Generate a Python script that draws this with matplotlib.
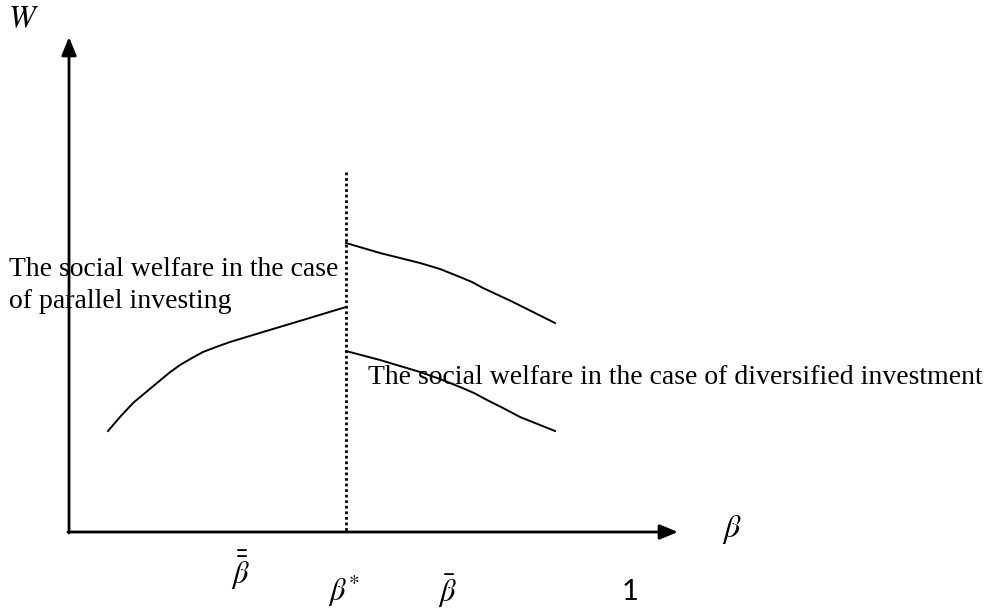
import matplotlib.pyplot as plt

# schematic: social welfare W against beta (coordinates, in pixels)
parallel_x = [108, 120, 133, 145, 157, 169, 180, 192, 203, 216, 230, 263, 303, 346]
parallel_y = [431, 417, 403, 393, 383, 373, 365, 358, 352, 347, 342, 332, 320, 307]

upper_x = [346, 380, 420, 440, 460, 472, 483, 498, 513, 555]
upper_y = [243, 253, 263, 269, 277, 282, 288, 295, 302, 323]

lower_x = [346, 380, 420, 440, 460, 474, 487, 503, 520, 555]
lower_y = [351, 360, 372, 379, 387, 393, 400, 408, 417, 431]

beta_star = 346
x_axis_y = 532
y_axis_x = 69

tick_labels = [r'$\bar{\bar{\beta}}$', r'$\beta^{*}$', r'$\bar{\beta}$', '1']
tick_pos = [240, 344, 447, 630]
tick_rows = [570, 591, 591, 592]

plt.rcParams['mathtext.fontset'] = 'stix'

fig = plt.figure(figsize=(9.86, 6.08), dpi=100)
ax = fig.add_axes([0, 0, 1, 1])
ax.set_xlim(0, 986)
ax.set_ylim(608, 0)
ax.axis('off')

# axes with arrow heads
arrow = dict(arrowstyle='-|>,head_length=1.1,head_width=0.45', color='black', lw=2,
             shrinkA=0, shrinkB=0)
ax.annotate('', xy=(y_axis_x, 37), xytext=(y_axis_x, x_axis_y + 1), arrowprops=arrow)
ax.annotate('', xy=(678, x_axis_y), xytext=(y_axis_x - 1, x_axis_y), arrowprops=arrow)

# dotted line at beta*
ax.plot([beta_star, beta_star], [172, x_axis_y], color='black', lw=2, linestyle=(0, (1, 1)))

for xs, ys in [(parallel_x, parallel_y), (upper_x, upper_y), (lower_x, lower_y)]:
    ax.plot(xs, ys, color='black', lw=1.4, solid_joinstyle='round')

serif = ['Liberation Serif', 'DejaVu Serif']
ax.text(9, 270, 'The social welfare in the case', fontsize=20, family=serif, va='center')
ax.text(9, 302, 'of parallel investing', fontsize=20, family=serif, va='center')
ax.text(368, 378, 'The social welfare in the case of diversified investment', fontsize=20,
        family=serif, va='center')

ax.text(24, 19, r'$W$', fontsize=23, ha='center', va='center')
ax.text(732, 529, r'$\beta$', fontsize=23, ha='center', va='center')
for lab, xp, yp in zip(tick_labels, tick_pos, tick_rows):
    ax.text(xp, yp, lab, fontsize=22 if '$' in lab else 21, ha='center', va='center',
            family='Lato')

fig.savefig('out.png', dpi=100)
